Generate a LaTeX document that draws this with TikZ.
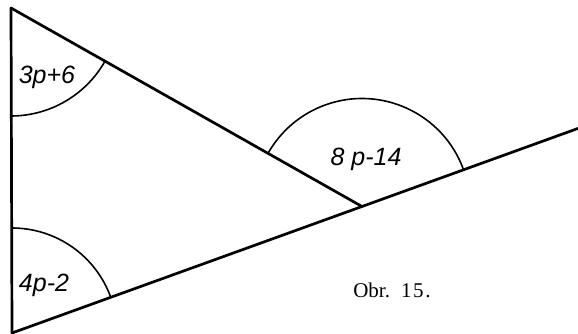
\documentclass[tikz,border=0pt]{standalone}
\usepackage{fontspec}
\setmainfont{Liberation Serif}
\setsansfont{Liberation Sans}
\usetikzlibrary{calc}

\begin{document}
\begin{tikzpicture}[
    x=1pt, y=1pt,
    side/.style={line width=2.7pt, line cap=round},
    anglearc/.style={line width=1.6pt},
    lbl/.style={font=\sffamily\itshape\fontsize{25}{25}\selectfont, inner sep=0pt},
    caption/.style={font=\fontsize{21}{21}\selectfont, inner sep=0pt}
]
\useasboundingbox (0,0) rectangle (578,334);

% vertices
\coordinate (top) at (11,326);
\coordinate (bottom) at (12,1);
\coordinate (cross) at (362,127.5);
\coordinate (far) at ($(bottom)!1.62!(cross)$);

% sides
\draw[side] (top) -- (bottom);
\draw[side] (top) -- (cross);
\draw[side] (bottom) -- (far);

% angle arcs
\draw[anglearc] (top) ++(-90:108) arc[start angle=-90, end angle=-29.5, radius=108];
\draw[anglearc] (bottom) ++(90:105) arc[start angle=90, end angle=19.9, radius=105];
\draw[anglearc] (cross) ++(19.9:108) arc[start angle=19.9, end angle=150.5, radius=108];

% labels
\node[lbl] (atop) at (47,257) {3p+6};
\node[lbl] (abottom) at (44,49) {4p-2};
\node[lbl] (across) at (366,175) {8 p-14};
\node[caption] (fig) at (392,44) {Obr.\hspace{11pt}{\addfontfeature{LetterSpace=8}15.}};
\end{tikzpicture}
\end{document}
